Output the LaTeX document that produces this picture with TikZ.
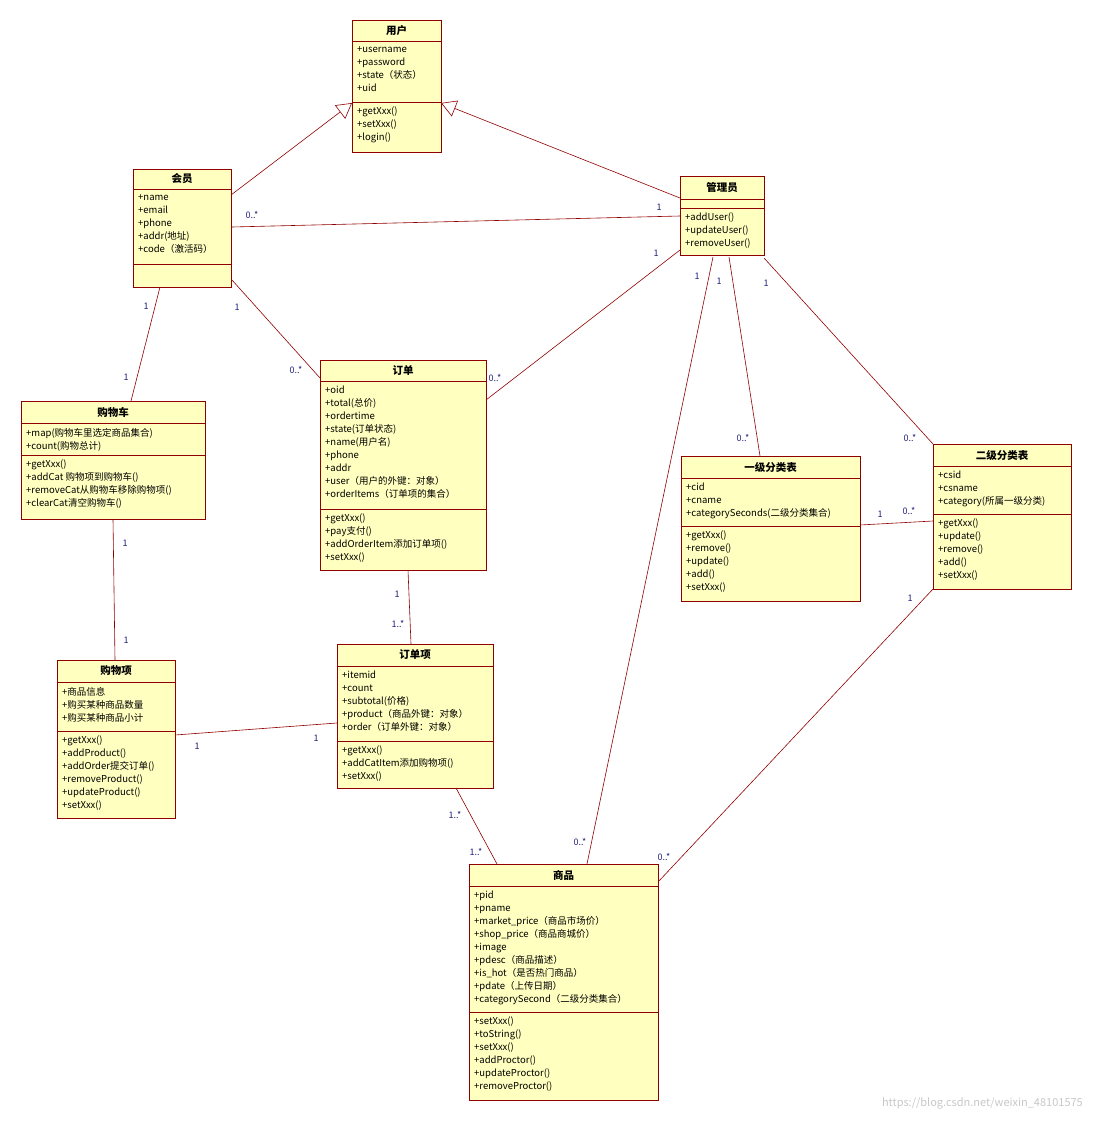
\documentclass[tikz,border=0pt]{standalone}
\usepackage{fontspec}
\setmainfont{Noto Sans CJK SC}
\usetikzlibrary{arrows.meta}
\definecolor{ln}{HTML}{900000}
\definecolor{bg}{HTML}{FFFFC0}
\definecolor{lb}{HTML}{20207A}
\tikzset{
  cls/.style={draw=ln,fill=bg,line width=0.9pt,inner sep=0pt,anchor=north west},
  sep/.style={draw=ln,line width=0.9pt},
  ttl/.style={font=\bfseries\fontsize{10.5}{13}\selectfont},
  txt/.style={font=\fontsize{9.5}{13}\selectfont,align=left,anchor=north west,inner sep=0pt},
  con/.style={draw=ln,line width=0.6pt},
  gen/.style={con,-{Triangle[open,length=15pt,width=17pt,fill=white]}},
  ml/.style={text=lb,font=\fontsize{9}{11}\selectfont,inner sep=0pt},
}
\newcommand\cls[9]{%
  \node[cls,minimum width={(#4-#2)*1pt},minimum height={(#5-#3)*1pt}] (#1) at (#2,#3) {};
  \draw[sep] (#2,#6) -- (#4,#6);
  \draw[sep] (#2,#7) -- (#4,#7);
  \node[ttl] (#1-t) at ({(#2+#4)/2},{(#3+#6)/2}) {#8};
  \node[txt] (#1-a) at (#2+5,#6+5) {#9};
  \def\clsx{#2}\def\clsb{#7}\def\clsn{#1}}
\newcommand\clsm[1]{\node[txt] (\clsn-m) at (\clsx+5,\clsb+5) {#1};}
\begin{document}
\begin{tikzpicture}[x=1pt,y=-1pt]
\useasboundingbox (0,0) rectangle (1092,1121);
\cls{user}{352}{20}{441}{152}{41}{102}{用户}{+username\\+password\\+state（状态）\\+uid}
\clsm{+getXxx()\\+setXxx()\\+login()}
\cls{member}{133}{169}{231}{287}{189}{264}{会员}{+name\\+email\\+phone\\+addr(地址)\\+code（激活码）}
\clsm{}
\cls{admin}{680}{176}{764}{255}{199}{208}{管理员}{}
\clsm{+addUser()\\+updateUser()\\+removeUser()}
\cls{cart}{21}{401}{205}{519}{423}{455}{购物车}{+map(购物车里选定商品集合)\\+count(购物总计)}
\clsm{+getXxx()\\+addCat 购物项到购物车()\\+removeCat从购物车移除购物项()\\+clearCat清空购物车()}
\cls{order}{320}{360}{486}{570}{381}{509}{订单}{+oid\\+total(总价)\\+ordertime\\+state(订单状态)\\+name(用户名)\\+phone\\+addr\\+user（用户的外键：对象）\\+orderItems（订单项的集合）}
\clsm{+getXxx()\\+pay支付()\\+addOrderItem添加订单项()\\+setXxx()}
\cls{cat1}{681}{456}{860}{601}{478}{526}{一级分类表}{+cid\\+cname\\+categorySeconds(二级分类集合)}
\clsm{+getXxx()\\+remove()\\+update()\\+add()\\+setXxx()}
\cls{cat2}{933}{444}{1071}{589}{466}{514}{二级分类表}{+csid\\+csname\\+category(所属一级分类)}
\clsm{+getXxx()\\+update()\\+remove()\\+add()\\+setXxx()}
\cls{citem}{57}{660}{175}{818}{682}{731}{购物项}{+商品信息\\+购买某种商品数量\\+购买某种商品小计}
\clsm{+getXxx()\\+addProduct()\\+addOrder提交订单()\\+removeProduct()\\+updateProduct()\\+setXxx()}
\cls{oitem}{337}{644}{493}{788}{666}{741}{订单项}{+itemid\\+count\\+subtotal(价格)\\+product（商品外键：对象）\\+order（订单外键：对象）}
\clsm{+getXxx()\\+addCatItem添加购物项()\\+setXxx()}
\cls{prod}{469}{864}{658}{1100}{886}{1012}{商品}{+pid\\+pname\\+market\_price（商品市场价）\\+shop\_price（商品商城价）\\+image\\+pdesc（商品描述）\\+is\_hot（是否热门商品）\\+pdate（上传日期）\\+categorySecond（二级分类集合）}
\clsm{+setXxx()\\+toString()\\+setXxx()\\+addProctor()\\+updateProctor()\\+removeProctor()}
% end points
\coordinate (mU) at (231,195); \coordinate (uM) at (352,103);
\coordinate (aU) at (680,198); \coordinate (uA) at (441,103);
\coordinate (mA) at (232,227); \coordinate (aM) at (680,216);
\coordinate (mC) at (160,287); \coordinate (cM) at (131,401);
\coordinate (mO) at (232,280); \coordinate (oM) at (320,378);
\coordinate (aO) at (680,250); \coordinate (oA) at (486,400);
\coordinate (aP) at (713,257); \coordinate (pA) at (587,864);
\coordinate (a1) at (729,257); \coordinate (c1a) at (760,456);
\coordinate (a2) at (764,258); \coordinate (c2a) at (933,444);
\coordinate (c1c) at (860,525); \coordinate (c2c) at (933,521);
\coordinate (c2p) at (933,589); \coordinate (pc2) at (658,882);
\coordinate (cI) at (113,519); \coordinate (iC) at (115,660);
\coordinate (oO) at (408,570); \coordinate (Oo) at (411,644);
\coordinate (iO) at (175,735); \coordinate (Oi) at (337,723);
\coordinate (Op) at (456,788); \coordinate (pO) at (497,864);
\draw[gen] (mU) -- (uM);
\draw[gen] (aU) -- (uA);
\draw[con] (mA) -- (aM);
\draw[con] (mC) -- (cM);
\draw[con] (mO) -- (oM);
\draw[con] (aO) -- (oA);
\draw[con] (aP) -- (pA);
\draw[con] (a1) -- (c1a);
\draw[con] (a2) -- (c2a);
\draw[con] (c1c) -- (c2c);
\draw[con] (c2p) -- (pc2);
\draw[con] (cI) -- (iC);
\draw[con] (oO) -- (Oo);
\draw[con] (iO) -- (Oi);
\draw[con] (Op) -- (pO);
% multiplicities
\foreach \x/\y/\t in {252/215/0..*,659/207/1,146/306/1,126/377/1,237/307/1,296/370/0..*,656/253/1,495/378/0..*,697/276/1,580/842/0..*,719/281/1,743/438/0..*,766/283/1,910/438/0..*,880/514/1,909/511/0..*,910/598/1,664/857/0..*,125/543/1,126/640/1,397/594/1,398/624/1..*,197/746/1,316/738/1,455/815/1..*,476/852/1..*}
  \node[ml] at (\x,\y) {\t};
\node[text=black!22,font=\fontsize{11}{13}\selectfont,anchor=east,inner sep=0pt] (wm) at (1083,1103) {https://blog.csdn.net/weixin\_48101575};
\end{tikzpicture}
\end{document}
